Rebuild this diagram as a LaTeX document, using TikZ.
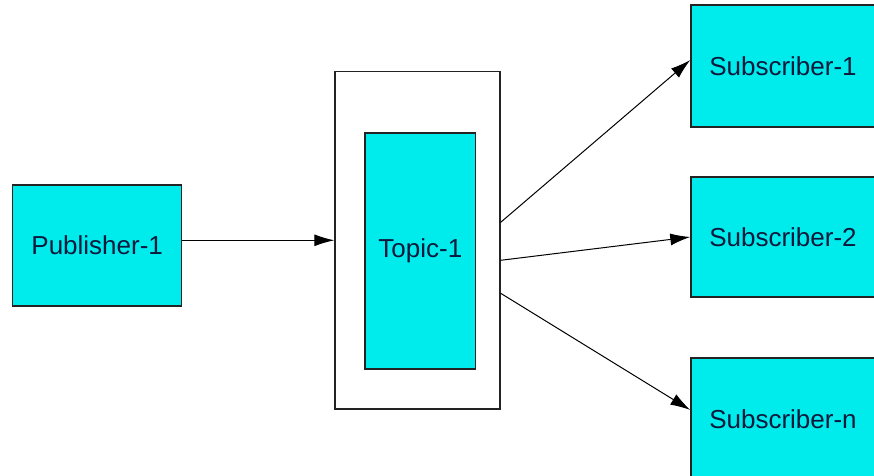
\documentclass[tikz,border=0pt]{standalone}
\usepackage{fontspec}
\setmainfont{Liberation Sans}
\usetikzlibrary{arrows.meta,positioning}

\begin{document}
\begin{tikzpicture}[x=0.5pt,y=-0.5pt,>={Latex[length=10pt,width=6pt]},font=\fontsize{13}{15}\selectfont]
  \tikzstyle{box}=[draw={rgb,255:red,35;green,35;blue,35},line width=0.7pt,fill={rgb,255:red,0;green,236;blue,236},text={rgb,255:red,10;green,25;blue,60},inner sep=0pt]
  \tikzstyle{holder}=[draw={rgb,255:red,35;green,35;blue,35},line width=0.7pt,fill=white,inner sep=0pt]
  \useasboundingbox (0,0) rectangle (874,476);

  \node[box,minimum width=84.5pt,minimum height=60.5pt] (pub) at (97.2,245.5) {Publisher-1};
  \node[holder,minimum width=82.5pt,minimum height=168.5pt] (outer) at (417.5,240.3) {};
  \node[box,minimum width=55.3pt,minimum height=118pt] (topic) at (420.3,251) {Topic-1};
  \node[box,minimum width=92pt,minimum height=61pt] (sub1) at (783,66) {Subscriber-1};
  \node[box,minimum width=92pt,minimum height=60pt] (sub2) at (783,237) {Subscriber-2};
  \node[box,minimum width=92pt,minimum height=61pt] (subn) at (783,419) {Subscriber-n};

\path[->,line width=0.5pt]
(pub.east |- outer.west) edge (outer.west)
([yshift=9pt]outer.east) edge ([yshift=3pt]sub1.west)
([yshift=-10pt]outer.east) edge (sub2.west)
([yshift=-26.5pt]outer.east) edge ([yshift=4.5pt]subn.west);
\end{tikzpicture}
\end{document}
